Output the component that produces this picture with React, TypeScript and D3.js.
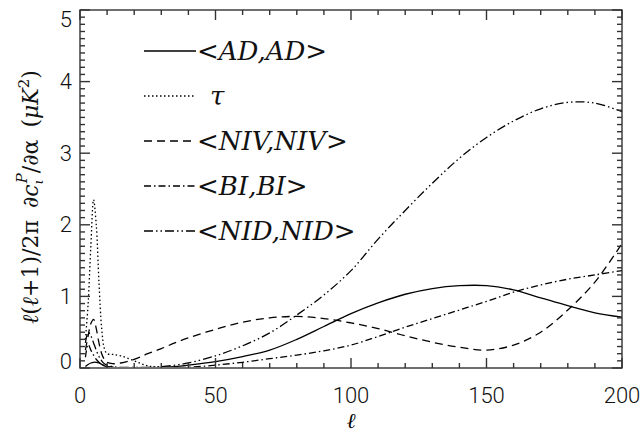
import React from "react";
import * as d3 from "d3";

const W = 644;
const H = 436;
const M = { left: 80, right: 22, top: 10, bottom: 68 };

// multipole grid shared by all curves
const ell = [2, 3, 4, 5, 6, 7, 8, 9, 10, 12, 15, 20, 25, 30, 35, 40, 50, 60, 70, 80, 90, 100, 110, 120, 130, 140, 150, 160, 170, 180, 190, 200];

const adVals = [0.02, 0.05, 0.07, 0.08, 0.08, 0.07, 0.05, 0.03, 0.02, 0.01, 0.0, 0.0, 0.0, 0.01, 0.02, 0.04, 0.09, 0.16, 0.25, 0.4, 0.58, 0.76, 0.91, 1.03, 1.11, 1.15, 1.15, 1.09, 0.98, 0.87, 0.77, 0.71];
const tauVals = [0.4, 0.9, 1.7, 2.35, 2.0, 1.2, 0.55, 0.27, 0.2, 0.19, 0.17, 0.1, 0.03, 0.01, 0, 0, 0, 0, 0, 0, 0, 0, 0, 0, 0, 0, 0, 0, 0, 0, 0, 0];
const nivVals = [0.25, 0.45, 0.62, 0.68, 0.55, 0.35, 0.2, 0.12, 0.08, 0.06, 0.07, 0.12, 0.2, 0.27, 0.35, 0.42, 0.54, 0.64, 0.7, 0.72, 0.69, 0.63, 0.55, 0.45, 0.36, 0.29, 0.25, 0.32, 0.5, 0.81, 1.2, 1.74];
const biVals = [0.15, 0.33, 0.25, 0.18, 0.12, 0.08, 0.05, 0.03, 0.02, 0.01, 0, 0, 0, 0, 0.01, 0.01, 0.04, 0.08, 0.13, 0.18, 0.24, 0.32, 0.44, 0.57, 0.69, 0.81, 0.93, 1.06, 1.16, 1.24, 1.3, 1.36];
const nidVals = [0.35, 0.5, 0.45, 0.35, 0.25, 0.16, 0.1, 0.06, 0.04, 0.02, 0.01, 0.01, 0.01, 0.02, 0.04, 0.07, 0.17, 0.31, 0.49, 0.74, 1.02, 1.36, 1.8, 2.2, 2.58, 2.93, 3.22, 3.45, 3.62, 3.71, 3.7, 3.58];

const xTicks = [0, 50, 100, 150, 200];
const yTicks = [0, 1, 2, 3, 4, 5];

const series = [
  { label: "<AD,AD>", vals: adVals, dash: "none" },
  { label: "τ", vals: tauVals, dash: "1.5,2.5" },
  { label: "<NIV,NIV>", vals: nivVals, dash: "8,5" },
  { label: "<BI,BI>", vals: biVals, dash: "7,3,1.5,3" },
  { label: "<NID,NID>", vals: nidVals, dash: "9,3,1.5,3,1.5,3" },
];

const App = () => {
  const x = d3.scaleLinear().domain([0, 200]).range([M.left, W - M.right]);
  const y = d3.scaleLinear().domain([0, 5]).range([H - M.bottom, M.top]);

  const line = d3
    .line<number>()
    .x((_, i) => x(ell[i]))
    .y((d) => y(d))
    .curve(d3.curveCatmullRom.alpha(0.5));

  const x0 = M.left;
  const x1 = W - M.right;
  const y0 = H - M.bottom;
  const y1 = M.top;

  const xMinor = d3.range(0, 201, 10);
  const yMinor = d3.range(0, 50.1, 1).map((v) => v / 10);

  const yLabelShift = (t: number) => (t === 0 ? -7 : t === 5 ? 9 : 0);

  return (
    <svg width={W} height={H} style={{ position: "absolute", left: 0, top: 0, background: "#fff" }}>
      <defs>
        <clipPath id="plot">
          <rect x={x0} y={y1} width={x1 - x0} height={y0 - y1 - 1} />
        </clipPath>
      </defs>

      {/* curves */}
      <g clipPath="url(#plot)" fill="none" stroke="#000" strokeWidth={1.3}>
        {series.map((s) => (
          <path key={s.label} d={line(s.vals) || ""} strokeDasharray={s.dash} />
        ))}
      </g>

      {/* frame and ticks */}
      <g stroke="#333" strokeWidth={1.4}>
        <rect x={x0} y={y1} width={x1 - x0} height={y0 - y1} fill="none" />
        {xMinor.map((t) => {
          const len = t % 50 === 0 ? 10 : 5;
          return (
            <g key={"xt" + t}>
              <line x1={x(t)} x2={x(t)} y1={y0} y2={y0 - len} />
              <line x1={x(t)} x2={x(t)} y1={y1} y2={y1 + len} />
            </g>
          );
        })}
        {yMinor.map((t) => {
          const len = Math.abs(t - Math.round(t)) < 1e-6 ? 10 : 5;
          return (
            <g key={"yt" + t}>
              <line x1={x0} x2={x0 + len} y1={y(t)} y2={y(t)} />
              <line x1={x1} x2={x1 - len} y1={y(t)} y2={y(t)} />
            </g>
          );
        })}
      </g>

      {/* tick labels */}
      <g fontFamily="Roboto, 'Liberation Sans', sans-serif" fontWeight={300} fontSize={22} fill="#111">
        {xTicks.map((t) => (
          <text key={"xl" + t} x={x(t)} y={y0 + 35} textAnchor="middle">
            {t}
          </text>
        ))}
        {yTicks.map((t) => (
          <text key={"yl" + t} x={x0 - 8} y={y(t) + yLabelShift(t)} textAnchor="end" dominantBaseline="central">
            {t}
          </text>
        ))}
      </g>

      {/* axis titles */}
      <text x={(x0 + x1) / 2} y={428} textAnchor="middle" fontFamily="'DejaVu Serif', serif" fontStyle="italic" fontSize={21}>
        ℓ
      </text>
      <text
        transform={`translate(38,${(y0 + y1) / 2 + 8}) rotate(-90)`}
        textAnchor="middle"
        fontFamily="'DejaVu Serif', serif"
        fontSize={22}
        fill="#111"
      >
        <tspan fontStyle="italic">ℓ</tspan>(<tspan fontStyle="italic">ℓ</tspan>+1)/2π
        <tspan dx={12}>∂</tspan>
        <tspan fontStyle="italic">c</tspan>
        <tspan fontSize={13} dy={5} fontStyle="italic">ι</tspan>
        <tspan fontSize={15} dx={-4} dy={-16} fontStyle="italic">P</tspan>
        <tspan dy={11}>/∂α</tspan>
        <tspan dx={12}>(</tspan>
        <tspan fontStyle="italic">μK</tspan>
        <tspan fontSize={15} dy={-9}>2</tspan>
        <tspan dy={9}>)</tspan>
      </text>

      {/* legend */}
      <g>
        {series.map((s, i) => {
          const ly = 51 + i * 45;
          return (
            <g key={"lg" + s.label}>
              <line x1={144} x2={196} y1={ly} y2={ly} stroke="#000" strokeWidth={1.3} strokeDasharray={s.dash} />
              <text
                x={s.label === "τ" ? 210 : 197}
                y={ly}
                dominantBaseline="central"
                fontFamily="'DejaVu Serif', serif"
                fontStyle="italic"
                fontSize={26}
                fill="#111"
              >
                {s.label}
              </text>
            </g>
          );
        })}
      </g>
    </svg>
  );
};

export default App;
